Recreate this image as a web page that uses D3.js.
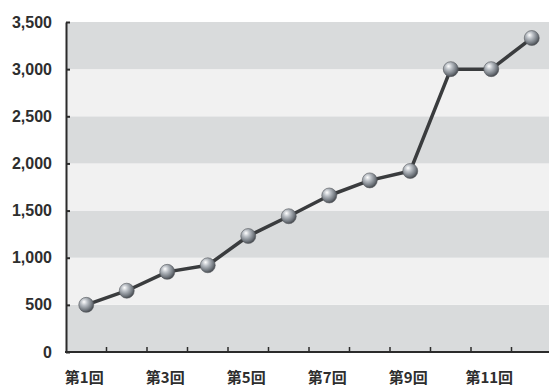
<!DOCTYPE html>
<html>
<head>
<meta charset="utf-8">
<script src="https://cdn.jsdelivr.net/npm/d3@7/dist/d3.min.js"></script>
<style>
  html, body { margin: 0; padding: 0; background: #ffffff; }
  svg { display: block; }
</style>
</head>
<body>
<svg id="chart" width="549" height="387"></svg>
<script>
// Rounds and their cumulative totals
const rounds = ["第1回","第2回","第3回","第4回","第5回","第6回","第7回","第8回","第9回","第10回","第11回","第12回"];
const totals = [500, 650, 850, 920, 1230, 1440, 1660, 1820, 1920, 3000, 3000, 3330];
const yTicks = [0, 500, 1000, 1500, 2000, 2500, 3000, 3500];
const shownRoundLabels = ["第1回","第3回","第5回","第7回","第9回","第11回"];

const svg = d3.select("#chart");
const plotLeft = 66, plotRight = 552, plotTop = 22, plotBottom = 352;

const x = d3.scaleBand().domain(rounds).range([plotLeft, plotRight]).padding(0);
const y = d3.scaleLinear().domain([0, 3500]).range([plotBottom, plotTop]);

// Gradient for the sphere markers
const defs = svg.append("defs");
const grad = defs.append("radialGradient")
  .attr("id", "ball").attr("cx", "38%").attr("cy", "35%").attr("r", "65%")
  .attr("fx", "35%").attr("fy", "30%");
grad.append("stop").attr("offset", "0%").attr("stop-color", "#ffffff");
grad.append("stop").attr("offset", "35%").attr("stop-color", "#b9bec4");
grad.append("stop").attr("offset", "80%").attr("stop-color", "#6f757c");
grad.append("stop").attr("offset", "100%").attr("stop-color", "#4a4e53");

// Alternating horizontal stripes between gridlines
const bands = yTicks.slice(0, -1).map((v, i) => ({ lo: v, hi: yTicks[i + 1], i }));
svg.append("g").selectAll("rect").data(bands).join("rect")
  .attr("x", plotLeft)
  .attr("width", 549 - plotLeft)
  .attr("y", d => y(d.hi))
  .attr("height", d => y(d.lo) - y(d.hi))
  .attr("fill", d => d.i % 2 === 0 ? "#d9dbdc" : "#f1f1f1");

// Y axis with inward ticks
const yAxis = svg.append("g")
  .attr("transform", `translate(${plotLeft},0)`)
  .call(d3.axisLeft(y).tickValues(yTicks).tickSizeInner(-4).tickSizeOuter(0)
    .tickFormat(d3.format(",")).tickPadding(14));
yAxis.select(".domain").attr("stroke", "#2b2b2b").attr("stroke-width", 2);
yAxis.selectAll(".tick line").attr("stroke", "#2b2b2b").attr("stroke-width", 2);
yAxis.selectAll(".tick text")
  .attr("fill", "#2e2e2e")
  .style("font-family", "'Liberation Sans', Arial, sans-serif")
  .style("font-weight", "bold")
  .style("font-size", "16px");

// X axis with upward ticks at band boundaries
const xBoundaries = rounds.map(r => x(r) + x.bandwidth());
const xAxisG = svg.append("g");
xAxisG.append("line")
  .attr("x1", plotLeft - 1).attr("x2", 549)
  .attr("y1", plotBottom).attr("y2", plotBottom)
  .attr("stroke", "#2b2b2b").attr("stroke-width", 2);
xAxisG.selectAll("line.tk").data(xBoundaries).join("line")
  .attr("class", "tk")
  .attr("x1", d => d).attr("x2", d => d)
  .attr("y1", plotBottom).attr("y2", plotBottom - 5)
  .attr("stroke", "#2b2b2b").attr("stroke-width", 1.5);
xAxisG.selectAll("text").data(shownRoundLabels).join("text")
  .attr("x", d => x(d) + x.bandwidth() / 2 - 2)
  .attr("y", 383)
  .attr("text-anchor", "middle")
  .attr("fill", "#2e2e2e")
  .style("font-family", "'Noto Sans CJK JP', sans-serif")
  .style("font-weight", "bold")
  .style("font-size", "15px")
  .text(d => d);

// Line
const line = d3.line()
  .x((d, i) => x(rounds[i]) + x.bandwidth() / 2)
  .y(d => y(d));
svg.append("path")
  .datum(totals)
  .attr("d", line)
  .attr("fill", "none")
  .attr("stroke", "#3a3c3e")
  .attr("stroke-width", 3.5)
  .attr("stroke-linejoin", "round");

// Sphere markers
svg.append("g").selectAll("circle").data(totals).join("circle")
  .attr("cx", (d, i) => x(rounds[i]) + x.bandwidth() / 2)
  .attr("cy", d => y(d))
  .attr("r", 7.5)
  .attr("fill", "url(#ball)")
  .attr("stroke", "#55595e")
  .attr("stroke-width", 0.6);
</script>
</body>
</html>
